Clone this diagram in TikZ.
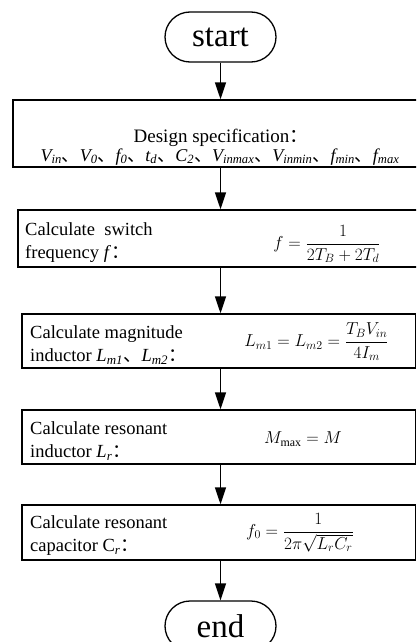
\documentclass[tikz,border=0pt]{standalone}
\usepackage{amsmath}
\usepackage{fontspec}
\setmainfont{Liberation Serif}
\newfontfamily\cjk{Noto Sans CJK SC}
\usetikzlibrary{arrows.meta, positioning}
\newcommand{\dun}{{\cjk 、}}
\newcommand{\qcolon}{{\cjk ：}}
\newcommand{\itsub}[2]{\textit{#1\textsubscript{#2}}}

\begin{document}
\begin{tikzpicture}[x=1pt, y=-1pt,
  terminal/.style={draw, line width=1.3pt, rounded corners=25pt,
                   minimum width=111pt, minimum height=50pt, inner sep=0pt,
                   font=\fontsize{33}{33}\selectfont},
  stepbox/.style={draw, line width=1.4pt, inner sep=0pt},
  txt/.style={anchor=west, align=left, inner sep=0pt,
              font=\fontsize{18.5}{23}\selectfont},
  formula/.style={inner sep=0pt, font=\fontsize{17}{20}\selectfont},
  arrow/.style={line width=1.4pt, -{Triangle[length=17pt, width=11pt]}}
]
\useasboundingbox (0,0) rectangle (416,642);
\clip (0,0) rectangle (416,642);

%--- Terminals ---
\node[terminal] (start)  at (220.5,37)  {start};
\node[terminal] (finish) at (220.5,626) {end};

%--- Boxes ---
\node[stepbox, minimum width=410pt, minimum height=67pt] (spec) at (218,133.5) {};
\node[stepbox, minimum width=405pt, minimum height=57pt] (b2) at (220.5,238.5) {};
\node[stepbox, minimum width=393.3pt, minimum height=54pt] (b3) at (218.65,341) {};
\node[stepbox, minimum width=393.3pt, minimum height=54pt] (b4) at (218.65,437) {};
\node[stepbox, minimum width=393.3pt, minimum height=55pt] (b5) at (218.65,532.5) {};

%--- Texts ---
\node[inner sep=0pt, anchor=base, font=\fontsize{19}{19}\selectfont] (specA) at (221,142)
  {Design specification\qcolon};
\node[inner sep=0pt, anchor=base, font=\fontsize{18}{18}\selectfont] (specB) at (220,161)
  {\itsub{V}{in}\dun\itsub{V}{0}\dun\itsub{f}{0}\dun\itsub{t}{d}\dun\itsub{C}{2}\dun
   \itsub{V}{inmax}\dun\itsub{V}{inmin}\dun\itsub{f}{min}\dun\itsub{f}{max}};

\node[txt] (t2) at (25,242.5) {Calculate \ switch\\frequency \textit{f}\qcolon};
\node[txt] (t3) at (30,345)   {Calculate magnitude\\inductor \itsub{L}{m1}\dun\itsub{L}{m2}\qcolon};
\node[txt] (t4) at (30,441)   {Calculate resonant\\inductor \itsub{L}{r}\qcolon};
\node[txt] (t5) at (30,536)   {Calculate resonant\\capacitor C\textsubscript{\itshape r}\qcolon};

%--- Formulas ---
\node[formula] (f2) at (327,244)   {$f=\dfrac{1}{2T_B+2T_d}$};
\node[formula] (f3) at (316.5,342) {$L_{m1}=L_{m2}=\dfrac{T_BV_{in}}{4I_m}$};
\node[formula] (f4) at (303,439)   {$M_{\max}=M$};
\node[formula] (f5) at (300,533)   {$f_0=\dfrac{1}{2\pi\sqrt{L_rC_r}}$};

%--- Arrows ---
\draw[arrow] (start) -- (start |- spec.north);
\draw[arrow] (start |- spec.south) -- (start |- b2.north);
\draw[arrow] (start |- b2.south) -- (start |- b3.north);
\draw[arrow] (start |- b3.south) -- (start |- b4.north);
\draw[arrow] (start |- b4.south) -- (start |- b5.north);
\draw[arrow] (start |- b5.south) -- (finish);

\end{tikzpicture}
\end{document}
